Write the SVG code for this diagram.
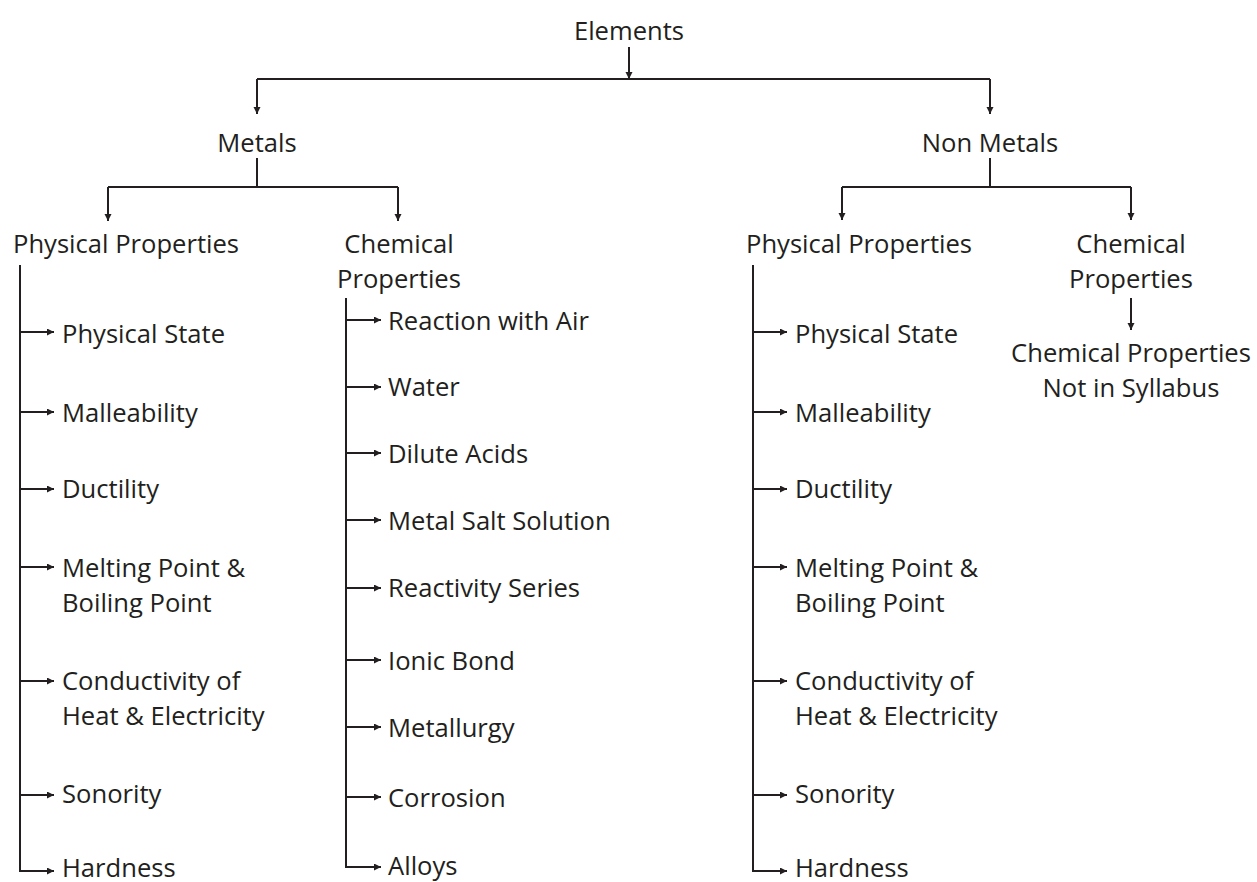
<svg xmlns="http://www.w3.org/2000/svg" width="1257" height="882" viewBox="0 0 1257 882">
<defs>
<marker id="ah" markerUnits="userSpaceOnUse" markerWidth="8" markerHeight="8" refX="7" refY="3.5" orient="auto">
<path d="M0,0 L7,3.5 L0,7 z" fill="#231f20"/>
</marker>
<style>
text{font-family:"Open Sans","Noto Sans","Liberation Sans",sans-serif;font-size:25.6px;fill:#231f20}
.c{text-anchor:middle}
.ln{stroke:#231f20;stroke-width:2;fill:none}
.ar{stroke:#231f20;stroke-width:2;fill:none;marker-end:url(#ah)}
</style>
</defs>
<rect width="1257" height="882" fill="#fff"/>
<g id="connectors">
<line class="ar" x1="629" y1="47" x2="629" y2="79"/>
<polyline class="ln" points="257,79 990,79"/>
<line class="ar" x1="257" y1="79" x2="257" y2="114"/>
<line class="ar" x1="990" y1="79" x2="990" y2="114"/>
<line class="ln" x1="257" y1="158" x2="257" y2="187"/>
<polyline class="ln" points="108,187 398,187"/>
<line class="ar" x1="108" y1="187" x2="108" y2="221"/>
<line class="ar" x1="398" y1="187" x2="398" y2="221"/>
<line class="ln" x1="990" y1="158" x2="990" y2="187"/>
<polyline class="ln" points="842,187 1131,187"/>
<line class="ar" x1="842" y1="187" x2="842" y2="220"/>
<line class="ar" x1="1131" y1="187" x2="1131" y2="220"/>
<line class="ar" x1="1131" y1="298" x2="1131" y2="330"/>
<!-- metals physical -->
<line class="ln" x1="20" y1="265" x2="20" y2="871"/>
<line class="ar" x1="20" y1="332" x2="54" y2="332"/>
<line class="ar" x1="20" y1="412" x2="54" y2="412"/>
<line class="ar" x1="20" y1="489" x2="54" y2="489"/>
<line class="ar" x1="20" y1="567" x2="54" y2="567"/>
<line class="ar" x1="20" y1="681" x2="54" y2="681"/>
<line class="ar" x1="20" y1="795" x2="54" y2="795"/>
<line class="ar" x1="19" y1="871" x2="54" y2="871"/>
<!-- metals chemical -->
<line class="ln" x1="346" y1="298" x2="346" y2="867"/>
<line class="ar" x1="346" y1="320" x2="381" y2="320"/>
<line class="ar" x1="346" y1="387" x2="381" y2="387"/>
<line class="ar" x1="346" y1="453" x2="381" y2="453"/>
<line class="ar" x1="346" y1="520" x2="381" y2="520"/>
<line class="ar" x1="346" y1="588" x2="381" y2="588"/>
<line class="ar" x1="346" y1="660" x2="381" y2="660"/>
<line class="ar" x1="346" y1="727" x2="381" y2="727"/>
<line class="ar" x1="346" y1="797" x2="381" y2="797"/>
<line class="ar" x1="345" y1="867" x2="381" y2="867"/>
<!-- non metals physical -->
<line class="ln" x1="753" y1="265" x2="753" y2="871"/>
<line class="ar" x1="753" y1="332" x2="787" y2="332"/>
<line class="ar" x1="753" y1="412" x2="787" y2="412"/>
<line class="ar" x1="753" y1="489" x2="787" y2="489"/>
<line class="ar" x1="753" y1="567" x2="787" y2="567"/>
<line class="ar" x1="753" y1="681" x2="787" y2="681"/>
<line class="ar" x1="753" y1="795" x2="787" y2="795"/>
<line class="ar" x1="752" y1="871" x2="787" y2="871"/>
</g>
<g id="n-elements"><text class="c" x="629" y="40">Elements</text></g>
<g id="n-metals"><text class="c" x="257" y="152">Metals</text></g>
<g id="n-nonmetals"><text class="c" x="990" y="152">Non Metals</text></g>
<g id="n-m-phys"><text x="13" y="253">Physical Properties</text></g>
<g id="n-m-chem"><text class="c" x="399" y="253">Chemical</text><text class="c" x="399" y="288">Properties</text></g>
<g id="n-nm-phys"><text x="746" y="253">Physical Properties</text></g>
<g id="n-nm-chem"><text class="c" x="1131" y="253">Chemical</text><text class="c" x="1131" y="288">Properties</text></g>
<g id="n-nm-chem-note"><text class="c" x="1131" y="362">Chemical Properties</text><text class="c" x="1131" y="397">Not in Syllabus</text></g>
<g id="n-m-state"><text x="62" y="343">Physical State</text></g>
<g id="n-m-mall"><text x="62" y="422">Malleability</text></g>
<g id="n-m-duct"><text x="62" y="498">Ductility</text></g>
<g id="n-m-melt"><text x="62" y="577">Melting Point &amp;</text><text x="62" y="612">Boiling Point</text></g>
<g id="n-m-cond"><text x="62" y="690">Conductivity of</text><text x="62" y="725">Heat &amp; Electricity</text></g>
<g id="n-m-sono"><text x="62" y="803">Sonority</text></g>
<g id="n-m-hard"><text x="62" y="877">Hardness</text></g>
<g id="n-c-air"><text x="388" y="330">Reaction with Air</text></g>
<g id="n-c-water"><text x="388" y="396">Water</text></g>
<g id="n-c-acid"><text x="388" y="463">Dilute Acids</text></g>
<g id="n-c-salt"><text x="388" y="530">Metal Salt Solution</text></g>
<g id="n-c-react"><text x="388" y="597">Reactivity Series</text></g>
<g id="n-c-ionic"><text x="388" y="670">Ionic Bond</text></g>
<g id="n-c-metal"><text x="388" y="737">Metallurgy</text></g>
<g id="n-c-corr"><text x="388" y="807">Corrosion</text></g>
<g id="n-c-alloy"><text x="388" y="875">Alloys</text></g>
<g id="n-n-state"><text x="795" y="343">Physical State</text></g>
<g id="n-n-mall"><text x="795" y="422">Malleability</text></g>
<g id="n-n-duct"><text x="795" y="498">Ductility</text></g>
<g id="n-n-melt"><text x="795" y="577">Melting Point &amp;</text><text x="795" y="612">Boiling Point</text></g>
<g id="n-n-cond"><text x="795" y="690">Conductivity of</text><text x="795" y="725">Heat &amp; Electricity</text></g>
<g id="n-n-sono"><text x="795" y="803">Sonority</text></g>
<g id="n-n-hard"><text x="795" y="877">Hardness</text></g>
</svg>
